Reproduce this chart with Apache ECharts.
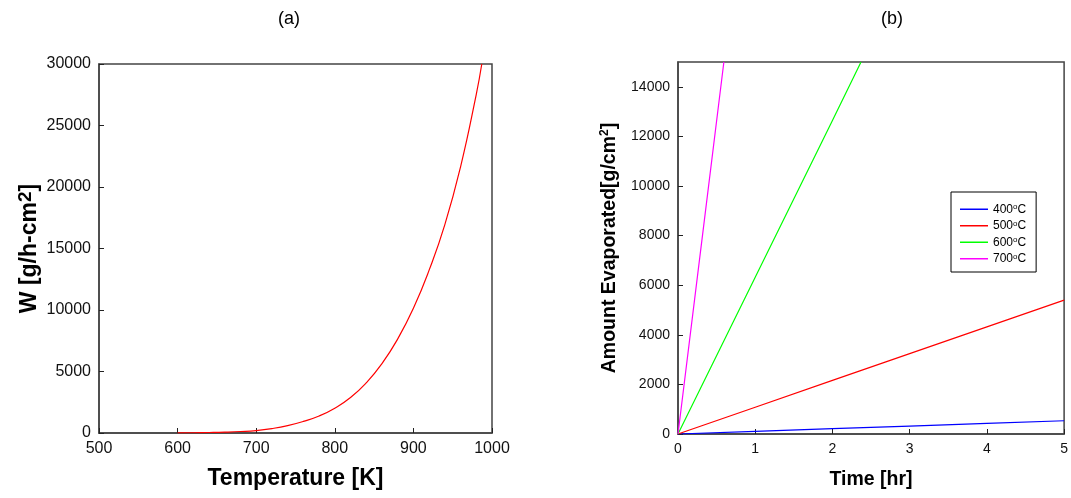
<!DOCTYPE html>
<html>
<head>
<meta charset="utf-8">
<title>Evaporation rate and amount evaporated</title>
<script src="https://cdn.jsdelivr.net/npm/echarts@6/dist/echarts.min.js"></script>
<style>
  html, body { margin: 0; padding: 0; background: #fff; }
  #chart { width: 1071px; height: 498px; }
</style>
</head>
<body>
<div id="chart"></div>
<script>
// (a) evaporation rate W versus temperature
const tempK = [600, 620, 640, 660, 680, 700, 720, 740, 760, 780, 800, 820, 840, 860, 880, 900, 920, 940, 960, 980, 987];
const rateW = [10, 20, 40, 70, 120, 200, 360, 600, 940, 1380, 2020, 2880, 4080, 5640, 7640, 10140, 13240, 16940, 21640, 27540, 30000];
const tempTicks = { min: 500, max: 1000, step: 100 };
const rateTicks = { min: 0, max: 30000, step: 5000 };

// (b) amount evaporated versus time, one line per temperature
const seriesNames = ['400°C', '500°C', '600°C', '700°C'];
const seriesColors = ['#0000ff', '#ff0000', '#00ff00', '#ff00ff'];
const time400 = [0, 1, 2, 3, 4, 5];
const amount400 = [0, 107, 214, 321, 428, 535];
const time500 = [0, 1, 2, 3, 4, 5];
const amount500 = [0, 1080, 2160, 3240, 4320, 5400];
const time600 = [0, 1, 2, 2.37];
const amount600 = [0, 6320, 12640, 15000];
const time700 = [0, 0.3, 0.594];
const amount700 = [0, 7575, 15000];
const timeTicks = { min: 0, max: 5, step: 1 };
const amountTicks = { min: 0, max: 15000, step: 2000 };

const pairs = (xs, ys) => xs.map((x, i) => [x, ys[i]]);

const FONT = '"Liberation Sans", Arial, sans-serif';
const frameColor = '#444';

function valueAxis(ticks, gridIndex, labelSize, extra) {
  return Object.assign({
    type: 'value',
    gridIndex: gridIndex,
    min: ticks.min,
    max: ticks.max,
    interval: ticks.step,
    splitLine: { show: false },
    axisLine: { show: true, onZero: false, lineStyle: { color: frameColor, width: 1.5 } },
    axisTick: { show: true, inside: true, length: 5, lineStyle: { color: '#222', width: 1 } },
    axisLabel: { color: '#111', fontSize: labelSize, fontFamily: FONT, margin: 8, formatter: v => String(v) },
    nameLocation: 'middle',
    nameTextStyle: { color: '#000', fontFamily: FONT, fontWeight: 'bold', fontSize: 19 }
  }, extra || {});
}

const chart = echarts.init(document.getElementById('chart'), null, { renderer: 'canvas' });

chart.setOption({
  backgroundColor: '#fff',
  animation: false,
  title: [
    { text: '(a)', left: 284, top: 5, textAlign: 'center',
      textStyle: { fontFamily: FONT, fontWeight: 'normal', fontSize: 18, color: '#000' } },
    { text: '(b)', left: 887, top: 5, textAlign: 'center',
      textStyle: { fontFamily: FONT, fontWeight: 'normal', fontSize: 18, color: '#000' } }
  ],
  grid: [
    { left: 99, right: 579, top: 64, bottom: 65, show: true, borderColor: frameColor, borderWidth: 1.5 },
    { left: 678, right: 6, top: 62, bottom: 64, show: true, borderColor: frameColor, borderWidth: 1.5 }
  ],
  xAxis: [
    valueAxis(tempTicks, 0, 16, {
      name: 'Temperature [K]', nameGap: 34,
      nameTextStyle: { color: '#000', fontFamily: FONT, fontWeight: 'bold', fontSize: 23 }
    }),
    valueAxis(timeTicks, 1, 14, {
      name: 'Time [hr]', nameGap: 36,
      nameTextStyle: { color: '#000', fontFamily: FONT, fontWeight: 'bold', fontSize: 19.5 }
    })
  ],
  yAxis: [
    valueAxis(rateTicks, 0, 16, {
      name: 'W [g/h-cm{s|2}]',
      nameGap: 55,
      nameTextStyle: {
        color: '#000', fontFamily: FONT, fontWeight: 'bold', fontSize: 23,
        rich: {
          s: { fontFamily: FONT, fontWeight: 'bold', fontSize: 19, color: '#000', verticalAlign: 'top', padding: [0, 0, 9, 0] }
        }
      }
    }),
    valueAxis(amountTicks, 1, 14, {
      name: 'Amount Evaporated[g/cm{s|2}]',
      nameGap: 58,
      axisLabel: { color: '#111', fontSize: 14, fontFamily: FONT, margin: 8, showMaxLabel: false, formatter: v => String(v) },
      nameTextStyle: {
        color: '#000', fontFamily: FONT, fontWeight: 'bold', fontSize: 19.5,
        rich: {
          s: { fontFamily: FONT, fontWeight: 'bold', fontSize: 12, color: '#000', verticalAlign: 'top', padding: [0, 0, 9, 0] }
        }
      }
    })
  ],
  legend: {
    data: seriesNames,
    orient: 'vertical',
    left: 951,
    top: 192,
    padding: [11, 10, 7, 9],
    icon: 'rect',
    itemWidth: 28,
    itemHeight: 1.5,
    itemGap: 4,
    borderColor: '#000',
    borderWidth: 1,
    backgroundColor: '#fff',
    formatter: name => name.replace('°C', '{s|o}C'),
    textStyle: {
      fontFamily: FONT, fontSize: 12, color: '#000', lineHeight: 12.5,
      rich: { s: { fontFamily: FONT, fontSize: 8, color: '#000', verticalAlign: 'top', padding: [0, 0, 5, 0] } }
    }
  },
  series: [
    {
      type: 'line', name: 'W', xAxisIndex: 0, yAxisIndex: 0,
      data: pairs(tempK, rateW), smooth: 0.5,
      symbol: 'none', lineStyle: { color: '#ff0000', width: 1.2 }, clip: true
    },
    {
      type: 'line', name: seriesNames[0], xAxisIndex: 1, yAxisIndex: 1,
      data: pairs(time400, amount400), symbol: 'none',
      itemStyle: { color: seriesColors[0] }, lineStyle: { color: seriesColors[0], width: 1.2 }, clip: true
    },
    {
      type: 'line', name: seriesNames[1], xAxisIndex: 1, yAxisIndex: 1,
      data: pairs(time500, amount500), symbol: 'none',
      itemStyle: { color: seriesColors[1] }, lineStyle: { color: seriesColors[1], width: 1.2 }, clip: true
    },
    {
      type: 'line', name: seriesNames[2], xAxisIndex: 1, yAxisIndex: 1,
      data: pairs(time600, amount600), symbol: 'none',
      itemStyle: { color: seriesColors[2] }, lineStyle: { color: seriesColors[2], width: 1.2 }, clip: true
    },
    {
      type: 'line', name: seriesNames[3], xAxisIndex: 1, yAxisIndex: 1,
      data: pairs(time700, amount700), symbol: 'none',
      itemStyle: { color: seriesColors[3] }, lineStyle: { color: seriesColors[3], width: 1.2 }, clip: true
    }
  ]
});
</script>
</body>
</html>
